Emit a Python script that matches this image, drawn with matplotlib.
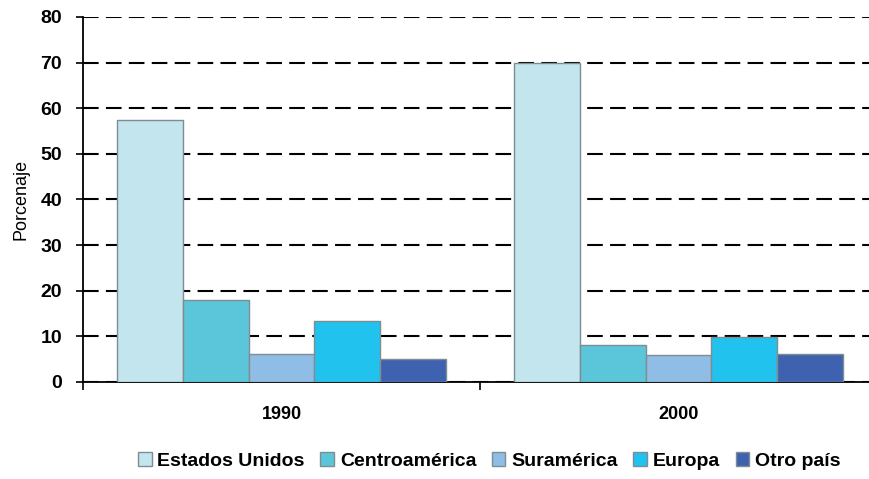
import numpy as np
import matplotlib.pyplot as plt

# Data
years = ["1990", "2000"]
series = ["Estados Unidos", "Centroamérica", "Suramérica", "Europa", "Otro país"]
estados_unidos = [57.4, 69.9]
centroamerica = [18.0, 8.1]
suramerica = [6.1, 5.9]
europa = [13.4, 9.9]
otro_pais = [5.0, 6.1]
values = [estados_unidos, centroamerica, suramerica, europa, otro_pais]
colors = ["#C3E5EE", "#5BC6D9", "#8FBDE5", "#22C2EF", "#3F62B0"]

plt.rcParams["font.family"] = ["Liberation Sans Narrow", "Liberation Sans", "DejaVu Sans"]

fig = plt.figure(figsize=(8.69, 4.79), dpi=100)
ax = fig.add_axes([83 / 869, 97 / 479, 794 / 869, 365 / 479])

x = np.arange(len(years))
width = 0.166
for i, (name, vals, c) in enumerate(zip(series, values, colors)):
    offset = (i - 2) * width
    ax.bar(x + offset, vals, width, color=c, edgecolor="#7F8C92",
           linewidth=1.0, label=name, zorder=3)

ax.set_xlim(-0.5, 1.5)
ax.set_ylim(0, 80)
ax.set_yticks(range(0, 81, 10))
ax.set_yticklabels([str(v) for v in range(0, 81, 10)], fontsize=14, fontweight="bold")
ax.yaxis.grid(True, color="black", linestyle=(0, (7.5, 3.5)), linewidth=1.5, zorder=0)
ax.set_axisbelow(True)

ax.set_xticks(x)
ax.set_xticklabels(years, fontsize=13, fontweight="bold")
ax.tick_params(axis="x", length=0, pad=17)
ax.set_xticks([-0.5, 0.5, 1.5], minor=True)
ax.tick_params(axis="x", which="minor", length=6, width=1.2, color="black")
ax.tick_params(axis="y", length=5, width=1.2, pad=10)

ax.set_ylabel("Porcenaje", fontsize=13, labelpad=8)

ax.spines["top"].set_visible(False)
ax.spines["right"].set_visible(False)
ax.spines["left"].set_linewidth(1.3)
ax.spines["bottom"].set_linewidth(1.3)

leg = fig.legend(loc="center", bbox_to_anchor=(0.563, 0.038), ncol=5, frameon=False,
                 prop={"size": 14, "weight": "bold"}, handlelength=0.7, handleheight=0.7,
                 handletextpad=0.3, columnspacing=0.8)

fig.savefig("out.png", dpi=100)
